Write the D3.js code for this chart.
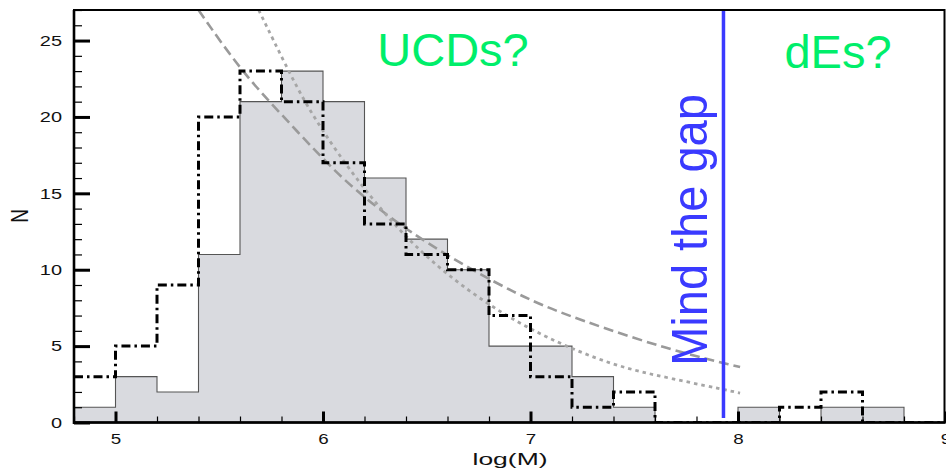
<!DOCTYPE html>
<html>
<head>
<meta charset="utf-8">
<script src="https://cdn.jsdelivr.net/npm/d3@7"></script>
<style>
  html, body { margin: 0; padding: 0; background: #fff; }
  svg { display: block; font-family: "Liberation Sans", Arial, Helvetica, sans-serif; }
</style>
</head>
<body>
<svg id="chart" width="946" height="471"></svg>
<script>
// ---------------- data ----------------
const binEdges = [4.8, 5.0, 5.2, 5.4, 5.6, 5.8, 6.0, 6.2, 6.4, 6.6, 6.8, 7.0, 7.2, 7.4, 7.6, 7.8, 8.0, 8.2, 8.4, 8.6, 8.8, 9.0];
const grayCounts = [1, 3, 2, 11, 21, 23, 21, 16, 12, 10, 5, 5, 3, 1, 0, 0, 1, 0, 1, 1, 0];
const dashDotCounts = [3, 5, 9, 20, 23, 21, 17, 13, 11, 10, 7, 3, 1, 2, 0, 0, 0, 1, 2, 0, 0];
// fitted curves: [logM, N]
const dashedCurve = [[5.40, 27.0], [5.60, 23.1], [5.79, 20.3], [6.03, 16.8], [6.19, 14.8], [6.47, 11.9], [6.95, 8.2], [7.24, 6.7], [7.67, 4.75], [8.01, 3.63]];
const dottedCurve = [[5.69, 27.0], [5.83, 23.1], [5.95, 20.0], [6.19, 15.3], [6.47, 11.0], [6.80, 7.6], [7.08, 5.5], [7.40, 3.7], [7.67, 2.9], [8.01, 1.93]];
const gapLine = 7.93;
const xTickValues = [5, 6, 7, 8, 9];
const xTickLabels = ["5", "6", "7", "8", "9"];
const yTickValues = [0, 5, 10, 15, 20, 25];
const yTickLabels = ["0", "5", "10", "15", "20", "25"];
const xDomain = [4.8, 9.0];
const yDomain = [0, 27];
const labels = { x: "log(M)", y: "N", ucd: "UCDs?", de: "dEs?", gap: "Mind the gap" };

// ---------------- layout ----------------
const L = 74, R = 945.5, T = 10, B = 422.5;
const svg = d3.select("#chart");
const x = d3.scaleLinear().domain(xDomain).range([L, R]);
const y = d3.scaleLinear().domain(yDomain).range([B, T]);

svg.append("defs").append("clipPath").attr("id", "plotclip")
  .append("rect").attr("x", L).attr("y", T).attr("width", R - L).attr("height", B - T);

const plot = svg.append("g").attr("clip-path", "url(#plotclip)");

// step points
function stepPoints(counts) {
  const pts = counts.map((c, i) => [binEdges[i], c]);
  pts.push([binEdges[binEdges.length - 1], counts[counts.length - 1]]);
  return pts;
}

const grayPts = stepPoints(grayCounts);
plot.append("path")
  .datum(grayPts)
  .attr("fill", "#d9dadf")
  .attr("d", d3.area().curve(d3.curveStepAfter).x(d => x(d[0])).y0(y(0)).y1(d => y(d[1])));
plot.append("path")
  .datum(grayPts)
  .attr("fill", "none")
  .attr("stroke", "#555")
  .attr("stroke-width", 1.1)
  .attr("d", d3.line().curve(d3.curveStepAfter).x(d => x(d[0])).y(d => y(d[1])));

// fitted curves
const curveLine = d3.line().curve(d3.curveBasis).x(d => x(d[0])).y(d => y(d[1]));
plot.append("path").datum(dashedCurve)
  .attr("fill", "none").attr("stroke", "#9a9a9a").attr("stroke-width", 2.6)
  .attr("stroke-dasharray", "10,5").attr("d", curveLine);
plot.append("path").datum(dottedCurve)
  .attr("fill", "none").attr("stroke", "#a6a6a6").attr("stroke-width", 2.8)
  .attr("stroke-dasharray", "3.5,4").attr("d", curveLine);

// dash-dot histogram
plot.append("path")
  .datum(stepPoints(dashDotCounts))
  .attr("fill", "none")
  .attr("stroke", "#000")
  .attr("stroke-width", 3)
  .attr("stroke-dasharray", "9,4,2.5,4")
  .attr("d", d3.line().curve(d3.curveStepAfter).x(d => x(d[0])).y(d => y(d[1])));

// gap line
plot.append("line")
  .attr("x1", x(gapLine)).attr("x2", x(gapLine))
  .attr("y1", y(0.3)).attr("y2", y(27))
  .attr("stroke", "#3a3aff").attr("stroke-width", 3.5);

// ---------------- axes ----------------
function stretch(sel, f) {
  sel.each(function () {
    const w = this.getComputedTextLength();
    d3.select(this).attr("textLength", w * f).attr("lengthAdjust", "spacingAndGlyphs");
  });
}

// minor y ticks
const yMinor = svg.append("g").attr("transform", `translate(${L},0)`)
  .call(d3.axisLeft(y).tickValues(y.ticks(27)).tickSize(-8).tickFormat(""));
yMinor.select(".domain").remove();
yMinor.selectAll("line").attr("stroke", "#000").attr("stroke-width", 1.2);

const yMajor = svg.append("g").attr("transform", `translate(${L},0)`)
  .call(d3.axisLeft(y).tickValues(yTickValues).tickSize(-16).tickPadding(12)
    .tickFormat((d, i) => yTickLabels[i]));
yMajor.select(".domain").remove();
yMajor.selectAll("line").attr("stroke", "#000").attr("stroke-width", 3);
yMajor.selectAll("text").attr("font-size", 15).attr("fill", "#111")
  .attr("font-family", "Liberation Sans, Arial, sans-serif");
stretch(yMajor.selectAll("text"), 1.33);

// minor x ticks
const xMinor = svg.append("g").attr("transform", `translate(0,${B})`)
  .call(d3.axisBottom(x).tickValues(d3.ticks(xDomain[0], xDomain[1], 21)).tickSize(-6).tickFormat(""));
xMinor.select(".domain").remove();
xMinor.selectAll("line").attr("stroke", "#000").attr("stroke-width", 1.2);

const xMajor = svg.append("g").attr("transform", `translate(0,${B})`)
  .call(d3.axisBottom(x).tickValues(xTickValues).tickSize(-11).tickPadding(10.5)
    .tickFormat((d, i) => xTickLabels[i]));
xMajor.select(".domain").remove();
xMajor.selectAll("line").attr("stroke", "#000").attr("stroke-width", 3);
xMajor.selectAll("text").attr("font-size", 15).attr("fill", "#111")
  .attr("font-family", "Liberation Sans, Arial, sans-serif");
stretch(xMajor.selectAll("text"), 1.25);

// frame
svg.append("rect").attr("x", L).attr("y", T).attr("width", R - L - 1).attr("height", B - T)
  .attr("fill", "none").attr("stroke", "#000").attr("stroke-width", 2);
svg.append("line").attr("x1", L).attr("x2", L).attr("y1", T).attr("y2", B + 1.5)
  .attr("stroke", "#000").attr("stroke-width", 2.6);
svg.append("line").attr("x1", L).attr("x2", R).attr("y1", B).attr("y2", B)
  .attr("stroke", "#000").attr("stroke-width", 2.6);

// axis titles
const xt = svg.append("text").attr("x", 510).attr("y", 465)
  .attr("text-anchor", "middle").attr("font-size", 17).attr("fill", "#111")
  .text(labels.x);
xt.attr("textLength", 75).attr("lengthAdjust", "spacingAndGlyphs");

svg.append("text")
  .attr("transform", "translate(28,216) scale(1.3,1) rotate(-90)")
  .attr("text-anchor", "middle").attr("font-size", 19).attr("fill", "#111")
  .text(labels.y);

// annotations
svg.append("text").attr("x", 453).attr("y", 66)
  .attr("text-anchor", "middle").attr("font-size", 47).attr("fill", "#00ee6a")
  .text(labels.ucd);
svg.append("text").attr("x", 838).attr("y", 68)
  .attr("text-anchor", "middle").attr("font-size", 47).attr("fill", "#00ee6a")
  .text(labels.de);
svg.append("text")
  .attr("transform", "translate(707,230) scale(1.07,1) rotate(-90)")
  .attr("text-anchor", "middle").attr("font-size", 47).attr("fill", "#3a3aff")
  .text(labels.gap);
</script>
</body>
</html>
